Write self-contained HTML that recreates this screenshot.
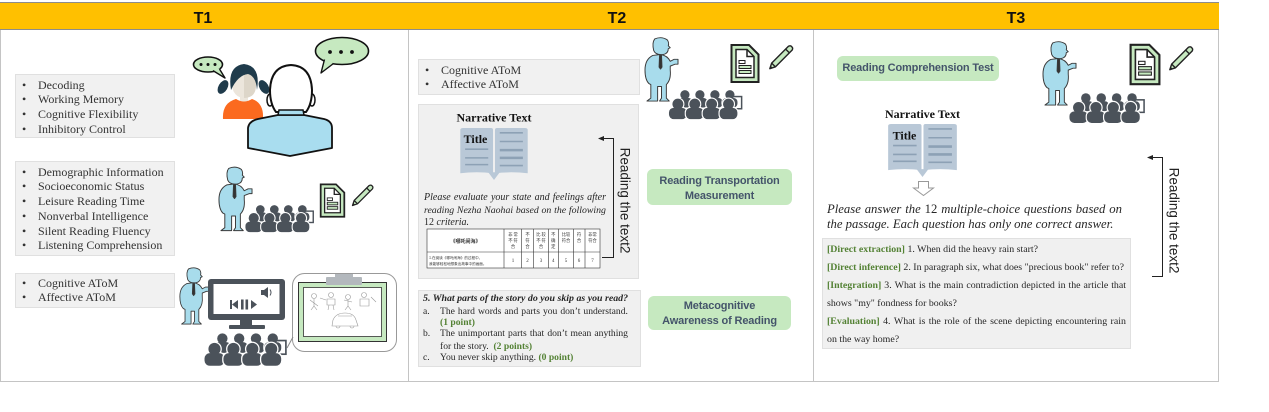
<!DOCTYPE html>
<html><head><meta charset="utf-8"><style>
*{margin:0;padding:0;box-sizing:border-box}
html,body{width:1269px;height:412px;background:#fff;overflow:hidden}
body{position:relative;font-family:"Liberation Serif","Noto Serif CJK SC",serif;color:#262626}
.a{position:absolute}
.hdr{left:0;top:2px;width:1219px;height:28px;background:#ffc000;border-top:1px solid #8c8c8c;border-bottom:1px solid #8c8c8c}
.ht{top:10px;font:bold 16px/18px "Liberation Sans",sans-serif;color:#111;width:40px;margin-left:-20px;text-align:center}
.col{top:30px;height:352px;border:1px solid #c4c4c4;border-top:none}
.gb{background:#f1f1f1;border:1px solid #e0e0e0}
.ls{font-size:12px;line-height:14.7px;color:#333;white-space:nowrap}
.ls div{position:relative;padding-left:22px}
.ls div:before{content:"•";position:absolute;left:6px}
.gr{background:#c6e9c0;border-radius:6px;color:#44546a;font:bold 11px/15px "Liberation Sans",sans-serif;text-align:center;letter-spacing:-0.15px;white-space:nowrap}
.t{position:absolute;white-space:nowrap}
.fj{position:absolute;display:flex;justify-content:space-between;white-space:nowrap}
.g{color:#548235;font-weight:bold}
</style></head><body>

<div class="a hdr"></div>
<div class="a ht" style="left:203px">T1</div>
<div class="a ht" style="left:617px">T2</div>
<div class="a ht" style="left:1016px">T3</div>

<div class="a col" style="left:0;width:409px"></div>
<div class="a col" style="left:408px;width:406px"></div>
<div class="a col" style="left:813px;width:406px"></div>

<!-- T1 boxes -->
<div class="a gb" style="left:15px;top:74px;width:160px;height:64px">
 <div class="ls" style="padding-top:2.7px"><div>Decoding</div><div>Working Memory</div><div>Cognitive Flexibility</div><div>Inhibitory Control</div></div>
</div>
<div class="a gb" style="left:15px;top:161px;width:160px;height:95px">
 <div class="ls" style="padding-top:2.7px"><div>Demographic Information</div><div>Socioeconomic Status</div><div>Leisure Reading Time</div><div>Nonverbal Intelligence</div><div>Silent Reading Fluency</div><div>Listening Comprehension</div></div>
</div>
<div class="a gb" style="left:15px;top:273px;width:160px;height:35px">
 <div class="ls" style="padding-top:1.7px"><div>Cognitive AToM</div><div>Affective AToM</div></div>
</div>

<!-- T2 boxes -->
<div class="a gb" style="left:418px;top:59px;width:222px;height:36px">
 <div class="ls" style="padding-top:2.7px"><div>Cognitive AToM</div><div>Affective AToM</div></div>
</div>
<div class="a gb" style="left:418px;top:104px;width:221px;height:175px;background:#f0f0f0"></div>
<div class="a gb" style="left:418px;top:290px;width:223px;height:77px;background:#f0f0f0"></div>

<div class="a gr" style="left:647px;top:169px;width:145px;height:36px;padding-top:5px">Reading Transportation<br>Measurement</div>
<div class="a gr" style="left:648px;top:296px;width:143px;height:34px;padding-top:2.5px">Metacognitive<br>Awareness of Reading</div>

<!-- T3 boxes -->
<div class="a gr" style="left:837px;top:56px;width:162px;height:25px;padding-top:5px">Reading Comprehension Test</div>
<div class="a gb" style="left:822px;top:238px;width:309px;height:111px;background:#f0f0f0"></div>

<svg class="a" style="left:0;top:0" width="1269" height="412" viewBox="0 0 1269 412">
<defs>
 <g id="ps">
  <g fill="#fff" stroke="#fff" stroke-width="2.4"><circle cx="10" cy="6" r="5.8"/><rect x="0.5" y="10" width="19" height="12" rx="5"/></g>
  <g fill="#4b525a"><circle cx="10" cy="6" r="5.8"/><rect x="0.5" y="10" width="19" height="12" rx="5"/></g>
 </g>
 <symbol id="aud" viewBox="0 0 80 32" overflow="visible">
  <use href="#ps" transform="translate(9,0) scale(.85)"/>
  <use href="#ps" transform="translate(25,0) scale(.85)"/>
  <use href="#ps" transform="translate(41,0) scale(.85)"/>
  <use href="#ps" transform="translate(57,0) scale(.85)"/>
  <rect x="68" y="7" width="10" height="13" fill="none" stroke="#4b525a" stroke-width="1.6"/>
  <use href="#ps" transform="translate(0,9)"/>
  <use href="#ps" transform="translate(18,9)"/>
  <use href="#ps" transform="translate(36,9)"/>
  <use href="#ps" transform="translate(54,9)"/>
 </symbol>
 <symbol id="tch" viewBox="0 0 36 68" overflow="visible">
  <g stroke="#3a3a3a" stroke-width="1" fill="#a8dcec" stroke-linejoin="round">
   <path d="M9 19 Q1 23 1 34 Q1 44 5 48 L7 49 L7 63 L3 66 L14 66 L14 51 L18 51 L18 63 L16 66 L26 66 L23 63 L23 49 Q28 44 27 34 L27 30 L32 28 L35 28 L35 23 L31 23 L27 25 Q24 19 17 18 Z"/>
   <path d="M11 2 Q18 -1 24 3 Q26 6 25 9 L27 11 L25 12 Q25 17 20 18 Q12 19 10 14 Q8 6 11 2 Z"/>
   <path d="M16 19 L18 19 L18.5 31 L17 33 L15.5 31 Z" fill="#333"/>
  </g>
 </symbol>
 <symbol id="doc" viewBox="0 0 30 40">
  <path d="M1.5 1.5 H19 L28.5 11 V38.5 H1.5 Z" fill="#c6e9c0" stroke="#222" stroke-width="2"/>
  <path d="M6 6 H17 L24 13 V34 H6 Z" fill="#fff" stroke="#222" stroke-width="1.5"/>
  <path d="M17 6 V13 H24" fill="none" stroke="#222" stroke-width="1.5"/>
  <rect x="9" y="17" width="6" height="3" fill="#fff" stroke="#222"/>
  <rect x="9" y="22" width="12" height="3" fill="#c6e9c0" stroke="#222"/>
  <rect x="9" y="27" width="12" height="3" fill="#c6e9c0" stroke="#222"/>
 </symbol>
 <symbol id="pen" viewBox="0 0 30 30">
  <path d="M3 27 L5 21 L23 3 Q25 2 26 3 L27 4 Q28 5 27 7 L9 25 Z" fill="#c6e9c0" stroke="#222" stroke-width="1.5" stroke-linejoin="round"/>
  <path d="M5 21 L9 25 M20 6 L24 10" stroke="#222" stroke-width="1.5"/>
  <path d="M3 27 L4 24 L6 26 Z" fill="#222"/>
 </symbol>
 <symbol id="book" viewBox="0 0 70 54">
  <path d="M0 2 Q0 0 3 0 L32 0 Q34 0 34 2 L34 47 Q17 45 0 47 Z" fill="#b9c8d7"/>
  <path d="M70 2 Q70 0 67 0 L38 0 Q36 0 36 2 L36 47 Q53 45 70 47 Z" fill="#b9c8d7"/>
  <path d="M29 46 L35 54 L41 46 Z" fill="#b9c8d7"/>
  <g stroke="#8da1b5" stroke-width="1.6">
   <line x1="5" y1="22" x2="29" y2="22"/><line x1="5" y1="31" x2="29" y2="31"/><line x1="5" y1="38" x2="29" y2="38"/>
   <line x1="41" y1="5" x2="65" y2="5"/><line x1="41" y1="14" x2="65" y2="14"/>
   <line x1="41" y1="23" x2="65" y2="23" stroke-width="2.6"/><line x1="41" y1="31" x2="65" y2="31" stroke-width="2.6"/><line x1="41" y1="39" x2="65" y2="39"/>
  </g>
 </symbol>
</defs>

<!-- T1 bubbles / girl / man -->
<ellipse cx="208" cy="64.5" rx="14.5" ry="7.5" fill="#c6e9c0" stroke="#111" stroke-width="1.6"/>
<polygon points="213,70 225,78 219.5,68.5" fill="#c6e9c0"/>
<path d="M213 70.6 L225 78 L219.5 69" fill="none" stroke="#111" stroke-width="1.4" stroke-linejoin="round"/>
<g fill="#111"><circle cx="201" cy="64.5" r="1.5"/><circle cx="208" cy="64.5" r="1.5"/><circle cx="215" cy="64.5" r="1.5"/></g>

<ellipse cx="342" cy="51" rx="26.5" ry="13.5" fill="#c6e9c0" stroke="#111" stroke-width="1.6"/>
<polygon points="325,59 321,73 333,63" fill="#c6e9c0"/>
<path d="M324.5 59.5 L321 73 L333.5 63.5" fill="none" stroke="#111" stroke-width="1.4" stroke-linejoin="round"/>
<g fill="#111"><circle cx="330" cy="52" r="1.9"/><circle cx="341" cy="52" r="1.9"/><circle cx="352" cy="52" r="1.9"/></g>

<ellipse cx="223" cy="87" rx="4.5" ry="7.5" transform="rotate(30 223 87)" fill="#1f3b4b"/>
<ellipse cx="264" cy="87" rx="4.5" ry="7.5" transform="rotate(-30 264 87)" fill="#1f3b4b"/>
<rect x="240" y="95" width="8" height="7" fill="#ece6dc"/>
<ellipse cx="244" cy="85" rx="12" ry="13" fill="#ece6dc"/>
<path d="M244 72 Q256 72 256 85 Q256 98 244 98 Z" fill="#ddd6c9"/>
<path d="M231 90 Q227 66 244 64 Q261 66 257 90 Q256 76 248 74 Q238 75 231 90 Z" fill="#1f3b4b"/>
<path d="M223 119 Q222 103 236 99 Q244 104 252 99 Q264 103 263 119 Z" fill="#fb6a1f"/>

<ellipse cx="270" cy="100" rx="3" ry="6" fill="#fff" stroke="#111" stroke-width="1.5"/>
<ellipse cx="312" cy="100" rx="3" ry="6" fill="#fff" stroke="#111" stroke-width="1.5"/>
<path d="M276 112 Q270 104 270 90 Q271 66 291 65 Q311 66 312 90 Q312 104 306 112 Z" fill="#fff" stroke="#111" stroke-width="2"/>
<path d="M248 148 L248 128 Q249 121 258 119 L278 115 L304 115 L324 119 Q332 121 332 128 L332 148 L290 156 Z" fill="#a9ddef" stroke="#111" stroke-width="1.8" stroke-linejoin="round"/>
<path d="M278 115 L279 110 L303 110 L304 115 Z" fill="#a9ddef" stroke="#111" stroke-width="1.5"/>

<!-- T1 middle -->
<use href="#tch" x="218" y="165" width="35" height="69"/>
<use href="#aud" x="245" y="205" width="70" height="28"/>
<use href="#doc" x="319" y="183" width="27" height="35"/>
<use href="#pen" x="350" y="183" width="25" height="25"/>

<!-- T1 bottom -->
<use href="#tch" x="179" y="263" width="31" height="67"/>
<rect x="208" y="279" width="77" height="41" rx="3" fill="#4b525a"/>
<rect x="213.5" y="284" width="66" height="30" fill="#fff"/>
<rect x="240" y="319" width="12" height="7" fill="#4b525a"/>
<rect x="229" y="325" width="36" height="4" rx="1" fill="#4b525a"/>
<g fill="#4b525a">
 <rect x="230" y="300" width="2" height="9"/><path d="M232 304.5 L238 300 V309 Z"/>
 <rect x="241" y="299.5" width="2.6" height="10"/><rect x="245.5" y="299.5" width="2.6" height="10"/>
 <path d="M251 300 L257 304.5 L251 309 Z"/>
 <rect x="261" y="290" width="3" height="5"/><path d="M264 290 L268 287 V298 L264 295 Z"/>
</g>
<path d="M270 289.5 Q272 292.5 270 295.5" fill="none" stroke="#4b525a" stroke-width="1"/>
<use href="#aud" x="204" y="333" width="84" height="34"/>
<rect x="292.5" y="273.5" width="104" height="78" rx="12" fill="#fff" stroke="#999" stroke-width="1"/>
<path d="M293 337 L287 348" stroke="#888" stroke-width="1"/>
<rect x="298.5" y="282.5" width="88" height="59" fill="#c6e9c0" stroke="#333" stroke-width="1"/>
<rect x="303.5" y="287.5" width="78" height="49" fill="#fff" stroke="#333" stroke-width="0.8"/>
<rect x="326" y="277" width="36" height="8" rx="1" fill="#b3b8bd"/>
<rect x="335" y="274" width="18" height="3" fill="#b3b8bd"/>
<g fill="none" stroke="#999" stroke-width="0.6">
 <circle cx="314" cy="296" r="2.5"/><path d="M310 300 L318 306 M314 299 L314 306 L311 310 M314 306 L317 310 M320 298 L326 300"/>
 <circle cx="331" cy="295" r="2.5"/><path d="M327 299 H335 V305 H327 Z M329 305 L328 310 M333 305 L334 310"/>
 <circle cx="348" cy="297" r="2.5"/><path d="M344 300 L352 302 M348 300 L348 306 L345 310 M348 306 L351 310"/>
 <circle cx="364" cy="295" r="2.5"/><path d="M360 299 H369 V306 H360 Z M371 297 L376 302"/>
 <path d="M333 320 Q336 313 345 313 Q354 313 356 320 L358 326 H332 Z M336 326 a2 2 0 1 0 4 0 M350 326 a2 2 0 1 0 4 0 M338 316 L352 316"/>
</g>

<!-- T2 graphics -->
<use href="#tch" x="644" y="37" width="35" height="66"/>
<use href="#aud" x="667" y="90" width="78" height="30"/>
<use href="#doc" x="730" y="43" width="30" height="41"/>
<use href="#pen" x="767" y="43" width="28" height="29"/>

<text x="494" y="121.5" font-family="Liberation Serif" font-weight="bold" font-size="12" text-anchor="middle" fill="#111">Narrative Text</text>
<use href="#book" x="459" y="128" width="70" height="52"/>
<text x="475.5" y="143" font-family="Liberation Serif" font-weight="bold" font-size="12" text-anchor="middle" fill="#111">Title</text>

<!-- table -->
<g transform="translate(427,229)" font-family="Noto Sans CJK SC, sans-serif" fill="#333">
 <rect x="0" y="0" width="173" height="39" fill="#fff" stroke="#333" stroke-width="0.6"/>
 <g stroke="#333" stroke-width="0.6">
  <line x1="0" y1="23" x2="173" y2="23"/>
  <line x1="77" y1="0" x2="77" y2="39"/><line x1="94.7" y1="0" x2="94.7" y2="39"/>
  <line x1="106.3" y1="0" x2="106.3" y2="39"/><line x1="121.3" y1="0" x2="121.3" y2="39"/>
  <line x1="131.3" y1="0" x2="131.3" y2="39"/><line x1="146.3" y1="0" x2="146.3" y2="39"/>
  <line x1="158" y1="0" x2="158" y2="39"/>
 </g>
 <text x="38.5" y="14" font-size="5" font-weight="bold" text-anchor="middle">《哪吒闹海》</text>
 <g font-size="4.3" text-anchor="middle">
  <text x="86" y="7">非 常</text><text x="86" y="13">不 符</text><text x="86" y="19">合</text>
  <text x="100.5" y="7">不</text><text x="100.5" y="13">符</text><text x="100.5" y="19">合</text>
  <text x="114" y="7">比 较</text><text x="114" y="13">不 符</text><text x="114" y="19">合</text>
  <text x="126.3" y="7">不</text><text x="126.3" y="13">确</text><text x="126.3" y="19">定</text>
  <text x="139" y="7">比较</text><text x="139" y="13">符合</text>
  <text x="152" y="7">符</text><text x="152" y="13">合</text>
  <text x="165.5" y="7">非常</text><text x="165.5" y="13">符合</text>
 </g>
 <g font-size="3.6"><text x="2" y="30">1.在阅读《哪吒闹海》的过程中，</text><text x="2" y="36">我能够轻松地想象出故事中的画面。</text></g>
 <g font-size="5" text-anchor="middle" font-family="Liberation Serif">
  <text x="86" y="33">1</text><text x="100.5" y="33">2</text><text x="114" y="33">3</text><text x="126.3" y="33">4</text><text x="139" y="33">5</text><text x="152" y="33">6</text><text x="165.5" y="33">7</text>
 </g>
</g>

<!-- T2 arrow -->
<path d="M603 138.5 H613.5 V257.5 H602" fill="none" stroke="#222" stroke-width="1"/>
<path d="M598 138.5 L604 136 L604 141 Z" fill="#222"/>
<text transform="translate(620.5,200.5) rotate(90)" font-family="Liberation Sans" font-size="13.5" text-anchor="middle" fill="#222">Reading the text2</text>

<!-- T3 graphics -->
<use href="#tch" x="1042" y="41" width="35" height="66"/>
<use href="#aud" x="1069" y="93" width="77" height="31"/>
<use href="#doc" x="1129" y="43" width="32" height="43"/>
<use href="#pen" x="1167" y="44" width="28" height="29"/>

<text x="922.5" y="118" font-family="Liberation Serif" font-weight="bold" font-size="12" text-anchor="middle" fill="#111">Narrative Text</text>
<use href="#book" x="888" y="124" width="69" height="53"/>
<text x="904.5" y="139.5" font-family="Liberation Serif" font-weight="bold" font-size="12" text-anchor="middle" fill="#111">Title</text>
<path d="M918.5 181.5 H928.5 V188 H933.5 L923.5 195.5 L913.5 188 H918.5 Z" fill="#fff" stroke="#999" stroke-width="1"/>

<path d="M1152 157.5 H1162.5 V276.5 H1152" fill="none" stroke="#222" stroke-width="1"/>
<path d="M1147 157.5 L1153 155 L1153 160 Z" fill="#222"/>
<text transform="translate(1169.5,220.5) rotate(90)" font-family="Liberation Sans" font-size="13.5" text-anchor="middle" fill="#222">Reading the text2</text>
</svg>

<!-- T2 texts -->
<div class="fj" style="left:424px;top:192px;width:182px;font-style:italic;font-size:10px;line-height:12px"><span>Please</span><span>evaluate</span><span>your</span><span>state</span><span>and</span><span>feelings</span><span>after</span></div>
<div class="fj" style="left:424px;top:204.5px;width:182px;font-style:italic;font-size:9.8px;line-height:12px"><span>reading</span><span>Nezha</span><span>Naohai</span><span>based</span><span>on</span><span>the</span><span>following</span></div>
<div class="t" style="left:424px;top:216.5px;font-size:10px;line-height:12px">12 <i>criteria.</i></div>

<div class="t" style="left:423px;top:293px;font-size:9.9px;line-height:12px;font-weight:bold;font-style:italic">5. What parts of the story do you skip as you read?</div>
<div class="t" style="left:423px;top:306px;font-size:9.6px;line-height:12px">a.</div>
<div class="fj" style="left:440px;top:306px;width:188px;font-size:9.6px;line-height:12px"><span>The</span><span>hard</span><span>words</span><span>and</span><span>parts</span><span>you</span><span>don’t</span><span>understand.</span></div>
<div class="t g" style="left:440px;top:317px;font-size:9.6px;line-height:12px">(1 point)</div>
<div class="t" style="left:423px;top:328px;font-size:9.6px;line-height:12px">b.</div>
<div class="fj" style="left:440px;top:328px;width:188px;font-size:9.6px;line-height:12px"><span>The</span><span>unimportant</span><span>parts</span><span>that</span><span>don’t</span><span>mean</span><span>anything</span></div>
<div class="t" style="left:440px;top:341px;font-size:9.6px;line-height:12px">for the story.&nbsp; <span class="g">(2 points)</span></div>
<div class="t" style="left:423px;top:352px;font-size:9.6px;line-height:12px">c.</div>
<div class="t" style="left:440px;top:352px;font-size:9.6px;line-height:12px">You never skip anything. <span class="g">(0 point)</span></div>

<!-- T3 texts -->
<div class="fj" style="left:827px;top:201.5px;width:295px;font-style:italic;font-size:12.7px;line-height:15px"><span>Please</span><span>answer</span><span>the</span><span style="font-style:normal">12</span><span>multiple-choice</span><span>questions</span><span>based</span><span>on</span></div>
<div class="t" style="left:827px;top:216.5px;font-style:italic;font-size:12.7px;line-height:15px">the passage. Each question has only one correct answer.</div>

<div class="t" style="left:827px;top:243px;font-size:9.9px;line-height:14px"><span class="g">[Direct extraction]</span> 1. When did the heavy rain start?</div>
<div class="t" style="left:827px;top:261px;font-size:9.9px;line-height:14px"><span class="g">[Direct inference]</span> 2. In paragraph six, what does "precious book" refer to?</div>
<div class="fj" style="left:827px;top:279px;width:299px;font-size:9.9px;line-height:14px"><span class="g">[Integration]</span><span>3.</span><span>What</span><span>is</span><span>the</span><span>main</span><span>contradiction</span><span>depicted</span><span>in</span><span>the</span><span>article</span><span>that</span></div>
<div class="t" style="left:827px;top:296.5px;font-size:9.9px;line-height:14px">shows "my" fondness for books?</div>
<div class="fj" style="left:827px;top:315px;width:299px;font-size:9.9px;line-height:14px"><span class="g">[Evaluation]</span><span>4.</span><span>What</span><span>is</span><span>the</span><span>role</span><span>of</span><span>the</span><span>scene</span><span>depicting</span><span>encountering</span><span>rain</span></div>
<div class="t" style="left:827px;top:332.5px;font-size:9.9px;line-height:14px">on the way home?</div>

</body></html>
